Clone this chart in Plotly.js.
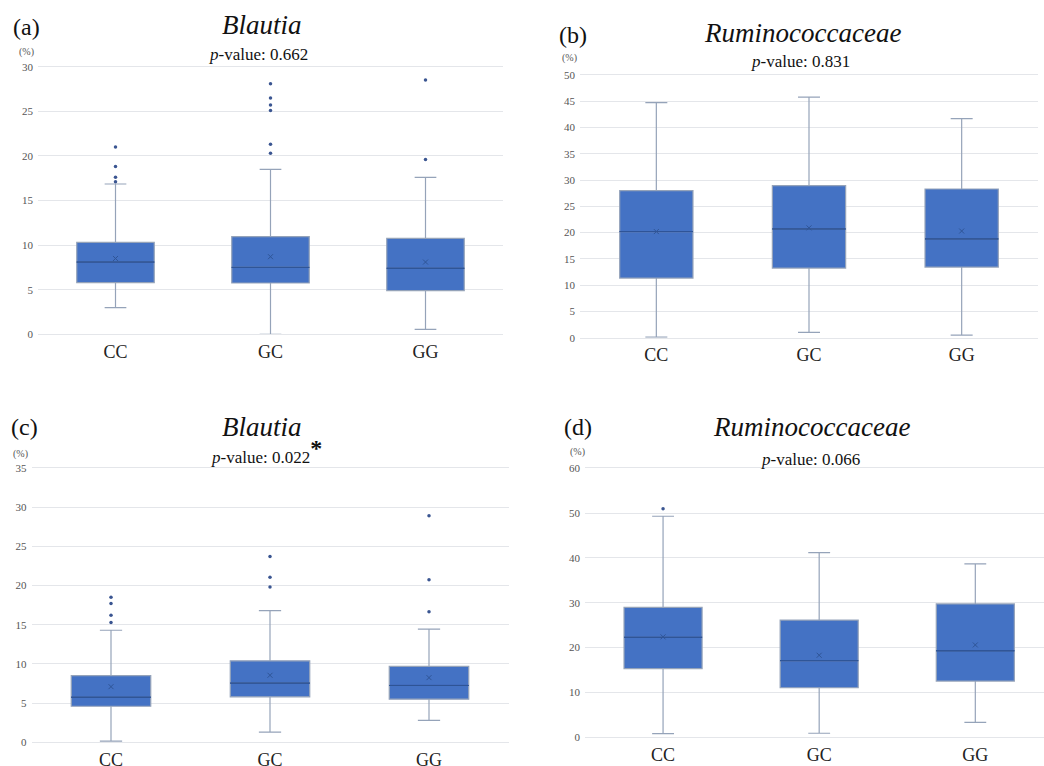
<!DOCTYPE html>
<html>
<head>
<meta charset="utf-8">
<script src="https://cdn.plot.ly/plotly-3.0.1.min.js"></script>
<style>html,body{margin:0;padding:0;background:#fff;}#chart{width:1044px;height:766px;}</style>
</head>
<body>
<div id="chart"></div>
<script>
// ---------- data ----------
const categories = ['CC', 'GC', 'GG'];

// (a) Blautia
const a_q1    = [5.8, 5.75, 4.9];
const a_med   = [8.1, 7.5, 7.4];
const a_q3    = [10.3, 10.95, 10.75];
const a_lo    = [3.0, 0.0, 0.55];
const a_hi    = [16.85, 18.5, 17.6];
const a_mean  = [8.5, 8.7, 8.1];
const a_out   = [[21.0, 18.8, 17.6, 17.1], [28.1, 26.5, 25.7, 25.1, 21.3, 20.3], [28.5, 19.6]];

// (b) Ruminococcaceae
const b_q1    = [11.35, 13.25, 13.45];
const b_med   = [20.2, 20.7, 18.8];
const b_q3    = [28.0, 28.95, 28.3];
const b_lo    = [0.1, 1.0, 0.5];
const b_hi    = [44.75, 45.8, 41.7];
const b_mean  = [20.2, 20.9, 20.3];
const b_out   = [[], [], []];

// (c) Blautia
const c_q1    = [4.6, 5.8, 5.5];
const c_med   = [5.75, 7.55, 7.25];
const c_q3    = [8.5, 10.4, 9.7];
const c_lo    = [0.15, 1.3, 2.8];
const c_hi    = [14.3, 16.8, 14.45];
const c_mean  = [7.1, 8.55, 8.25];
const c_out   = [[18.5, 17.7, 16.2, 15.3], [23.7, 21.05, 19.8], [28.9, 20.75, 16.65]];

// (d) Ruminococcaceae
const d_q1    = [15.3, 11.05, 12.55];
const d_med   = [22.3, 17.1, 19.3];
const d_q3    = [29.0, 26.15, 29.75];
const d_lo    = [0.8, 0.9, 3.35];
const d_hi    = [49.3, 41.2, 38.7];
const d_mean  = [22.4, 18.3, 20.6];
const d_out   = [[51.0], [], []];

const panelLetters = ['(a)', '(b)', '(c)', '(d)'];
const taxa = ['Blautia', 'Ruminococcaceae', 'Blautia', 'Ruminococcaceae'];
const pvals = ['0.662', '0.831', '0.022', '0.066'];
const yMax = [30, 50, 35, 60];
const yStep = [5, 5, 5, 10];

// ---------- styling ----------
const W = 1044, H = 766;
const SERIF = '"Liberation Serif", "DejaVu Serif", serif';
const BOX_FILL = '#4472C4';
const WHISKER = '#95a3b9';
const MEDIAN = '#2f5597';
const DOT = '#3a5591';
const GRID = '#e4e6ea';
const fx = p => p / W;
const fy = p => 1 - p / H;

const panels = [
  {q1: a_q1, med: a_med, q3: a_q3, lo: a_lo, hi: a_hi, mean: a_mean, out: a_out},
  {q1: b_q1, med: b_med, q3: b_q3, lo: b_lo, hi: b_hi, mean: b_mean, out: b_out},
  {q1: c_q1, med: c_med, q3: c_q3, lo: c_lo, hi: c_hi, mean: c_mean, out: c_out},
  {q1: d_q1, med: d_med, q3: d_q3, lo: d_lo, hi: d_hi, mean: d_mean, out: d_out}
];

// plot-area pixel boxes and x ranges
const areas = [
  {x: [38, 503], y: [66.7, 334.3], xr: [-0.5, 2.5], bw: 0.5, ww: 0.28},
  {x: [580, 1038], y: [75, 337.7], xr: [-0.5, 2.5], bw: 0.48, ww: 0.3},
  {x: [31.5, 508.5], y: [468, 742.3], xr: [-0.5, 2.5], bw: 0.5, ww: 0.28},
  {x: [585, 1044], y: [468.3, 737.3], xr: [-0.5, 2.44], bw: 0.5, ww: 0.28}
];

const traces = [];
const layout = {
  width: W, height: H,
  margin: {l: 0, r: 0, t: 0, b: 0},
  paper_bgcolor: '#fff', plot_bgcolor: '#fff',
  showlegend: false,
  boxmode: 'overlay',
  font: {family: SERIF, color: '#222'},
  annotations: []
};

panels.forEach((p, i) => {
  const n = i + 1;
  const xa = 'x' + (n === 1 ? '' : n), ya = 'y' + (n === 1 ? '' : n);
  const ar = areas[i];
  traces.push({
    type: 'box', xaxis: xa, yaxis: ya,
    x: categories, q1: p.q1, median: p.med, q3: p.q3,
    lowerfence: p.lo, upperfence: p.hi,
    fillcolor: BOX_FILL, line: {color: WHISKER, width: 1.2},
    whiskerwidth: ar.ww, width: ar.bw, boxpoints: false, hoverinfo: 'skip'
  });
  traces.push({
    type: 'box', xaxis: xa, yaxis: ya,
    x: categories, q1: p.med, median: p.med, q3: p.med,
    lowerfence: p.med, upperfence: p.med,
    fillcolor: 'rgba(0,0,0,0)', line: {color: MEDIAN, width: 1},
    whiskerwidth: 0, width: ar.bw, boxpoints: false, hoverinfo: 'skip'
  });
  traces.push({
    type: 'scatter', mode: 'markers', xaxis: xa, yaxis: ya,
    x: categories, y: p.mean,
    marker: {symbol: 'x-thin', size: 5, line: {color: MEDIAN, width: 1}, color: MEDIAN},
    hoverinfo: 'skip'
  });
  const ox = [], oy = [];
  p.out.forEach((arr, k) => arr.forEach(v => { ox.push(categories[k]); oy.push(v); }));
  if (ox.length) {
    traces.push({
      type: 'scatter', mode: 'markers', xaxis: xa, yaxis: ya,
      x: ox, y: oy,
      marker: {symbol: 'circle', size: 3.5, color: DOT},
      hoverinfo: 'skip'
    });
  }

  const xkey = 'xaxis' + (n === 1 ? '' : n), ykey = 'yaxis' + (n === 1 ? '' : n);
  layout[xkey] = {
    domain: [fx(ar.x[0]), fx(ar.x[1])], anchor: ya,
    type: 'category', range: ar.xr,
    showgrid: false, zeroline: false,
    showline: true, linecolor: GRID, linewidth: 1, mirror: true,
    ticks: '',
    tickfont: {family: SERIF, size: 18, color: '#222'},
    ticklabelstandoff: 1, fixedrange: true
  };
  layout[ykey] = {
    domain: [fy(ar.y[1]), fy(ar.y[0])], anchor: xa,
    range: [0, yMax[i]], dtick: yStep[i], tick0: 0,
    showgrid: true, gridcolor: GRID, gridwidth: 1,
    zeroline: false, showline: false, ticks: '',
    tickfont: {family: SERIF, size: 11, color: '#555'},
    ticklabelstandoff: 4, fixedrange: true
  };
});

const textPos = [
  {letter: [26, 27], title: [262, 25], pv: [258, 55], pct: [26, 52]},
  {letter: [573, 35], title: [802, 33], pv: [800, 62], pct: [569, 58]},
  {letter: [24, 427], title: [262, 427], pv: [266, 451], pct: [20, 454]},
  {letter: [578, 427], title: [811, 427], pv: [810, 459], pct: [577, 452]}
];
textPos.forEach((t, i) => {
  layout.annotations.push({
    xref: 'paper', yref: 'paper', x: fx(t.letter[0]), y: fy(t.letter[1]),
    xanchor: 'center', yanchor: 'middle', showarrow: false,
    text: panelLetters[i], font: {family: SERIF, size: 24, color: '#111'}
  });
  layout.annotations.push({
    xref: 'paper', yref: 'paper', x: fx(t.title[0]), y: fy(t.title[1]),
    xanchor: 'center', yanchor: 'middle', showarrow: false,
    text: '<i>' + taxa[i] + '</i>', font: {family: SERIF, size: 27, color: '#111'}
  });
  const star = i === 2 ? '<sup><span style="font-size:24px"><b>*</b></span></sup>' : '';
  layout.annotations.push({
    xref: 'paper', yref: 'paper', x: fx(t.pv[0]), y: fy(t.pv[1]),
    xanchor: 'center', yanchor: 'middle', showarrow: false,
    text: '<i>p</i>-value: ' + pvals[i] + star, font: {family: SERIF, size: 17, color: '#111'}
  });
  layout.annotations.push({
    xref: 'paper', yref: 'paper', x: fx(t.pct[0]), y: fy(t.pct[1]),
    xanchor: 'center', yanchor: 'middle', showarrow: false,
    text: '(%)', font: {family: SERIF, size: 10, color: '#555'}
  });
});

Plotly.newPlot('chart', traces, layout, {staticPlot: true, displayModeBar: false});
</script>
</body>
</html>
